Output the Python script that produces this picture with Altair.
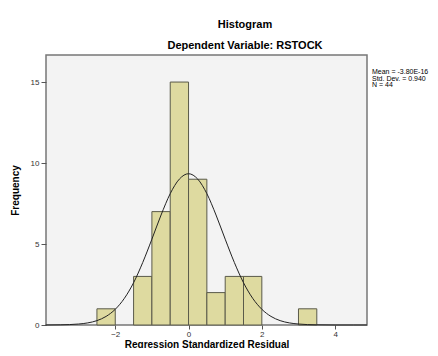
import altair as alt
import pandas as pd

# Histogram bins (bin width 0.5)
bin_start = [-2.5, -1.5, -1.0, -0.5, 0.0, 0.5, 1.0, 1.5, 3.0]
bin_end = [-2.0, -1.0, -0.5, 0.0, 0.5, 1.0, 1.5, 2.0, 3.5]
counts = [1, 3, 7, 15, 9, 2, 3, 3, 1]

# Normal curve points
curve_x = [-3.9, -3.5, -3.0, -2.75, -2.5, -2.25, -2.0, -1.75, -1.5, -1.25, -1.0, -0.75,
           -0.5, -0.25, 0.0, 0.25, 0.5, 0.75, 1.0, 1.25, 1.5, 1.75, 2.0, 2.25, 2.5,
           2.75, 3.0, 3.5, 4.0, 4.5, 4.87]
curve_y = [0.0, 0.01, 0.06, 0.13, 0.27, 0.53, 0.97, 1.65, 2.61, 3.86, 5.30, 6.79,
           8.11, 9.01, 9.34, 9.01, 8.11, 6.79, 5.30, 3.86, 2.61, 1.65, 0.97, 0.53, 0.27,
           0.13, 0.06, 0.01, 0.0, 0.0, 0.0]

titles = ["Histogram", "Dependent Variable: RSTOCK"]
stats = ["Mean = -3.80E-16", "Std. Dev. = 0.940", "N = 44"]

x_ticks = [-2, 0, 2, 4]
y_ticks = [0, 5, 10, 15]

bars = pd.DataFrame({"start": bin_start, "end": bin_end, "count": counts})
curve = pd.DataFrame({"x": curve_x, "y": curve_y})

FONT = "Liberation Sans"
xscale = alt.Scale(domain=[-3.89, 4.87], nice=False, zero=False)
yscale = alt.Scale(domain=[0, 16.67], nice=False)

xaxis = alt.Axis(values=x_ticks, title="Regression Standardized Residual",
                 titleFont=FONT, titleFontSize=10, titleFontWeight="bold", titleColor="#000",
                 titleBaseline="alphabetic", titleY=22,
                 labelFont=FONT, labelFontSize=8, labelColor="#333",
                 tickColor="#555", tickSize=4, domain=False, grid=False, labelPadding=1)
yaxis = alt.Axis(values=y_ticks, title="Frequency",
                 titleFont=FONT, titleFontSize=10, titleFontWeight="bold", titleColor="#000",
                 titlePadding=10, labelFont=FONT, labelFontSize=8, labelColor="#333",
                 tickColor="#555", tickSize=5, domain=False, grid=False, labelPadding=2)

hist = alt.Chart(bars).mark_rect(fill="#dedaa0", stroke="#5a5a4a", strokeWidth=1).encode(
    x=alt.X("start:Q", scale=xscale, axis=xaxis),
    x2="end:Q",
    y=alt.Y("count:Q", scale=yscale, axis=yaxis),
    y2=alt.datum(0),
)

line = alt.Chart(curve).mark_line(color="#222", strokeWidth=1, interpolate="monotone").encode(
    x=alt.X("x:Q", scale=xscale),
    y=alt.Y("y:Q", scale=yscale),
)

title_df = pd.DataFrame({"t": titles, "yy": [-27, -6]})
title_marks = alt.Chart(title_df).mark_text(
    font=FONT, fontSize=11, fontWeight="bold", color="#000", align="center", baseline="alphabetic"
).encode(
    text="t:N",
    x=alt.value(199),
    y=alt.Y("yy:Q", scale=None),
)

stats_df = pd.DataFrame({"t": stats, "yy": [19, 25.5, 32]})
stats_marks = alt.Chart(stats_df).mark_text(
    font=FONT, fontSize=7, color="#000", align="left", baseline="alphabetic"
).encode(
    text="t:N",
    x=alt.value(326),
    y=alt.Y("yy:Q", scale=None),
)

chart = alt.layer(hist, line, title_marks, stats_marks).properties(
    width=321,
    height=270,
    autosize=alt.AutoSizeParams(type="none"),
    padding={"left": 38, "top": 47, "right": 63, "bottom": 23},
).configure_view(
    fill="#f3f3f3", stroke="#777", strokeWidth=1.5
)

chart.save("out.html", embed_options={"renderer": "svg", "actions": False})
